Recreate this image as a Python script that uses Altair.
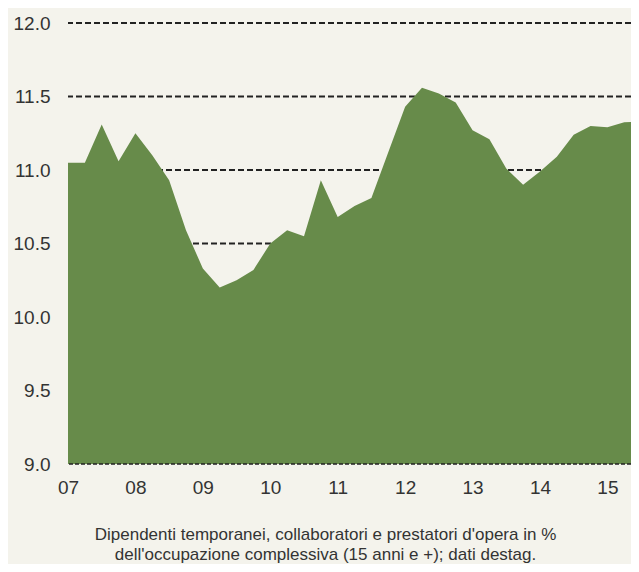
import altair as alt
import pandas as pd

# Quarterly observations, index 0 = 2007 Q1
quarters = list(range(35))
values = [11.05, 11.05, 11.31, 11.06, 11.25, 11.10, 10.93, 10.59,
          10.33, 10.20, 10.25, 10.32, 10.50, 10.59, 10.55, 10.93,
          10.68, 10.755, 10.81, 11.12, 11.43, 11.56, 11.52, 11.46,
          11.27, 11.21, 11.01, 10.90, 10.99, 11.09, 11.24, 11.30,
          11.29, 11.325, 11.33]
year_ticks = [0, 4, 8, 12, 16, 20, 24, 28, 32]
year_labels = ["07", "08", "09", "10", "11", "12", "13", "14", "15"]
y_ticks = [9.0, 9.5, 10.0, 10.5, 11.0, 11.5, 12.0]
grid_levels = [9.5, 10.0, 10.5, 11.0, 11.5, 12.0]
baseline_level = [9.0]
caption = ["Dipendenti temporanei, collaboratori e prestatori d'opera in %",
           "dell'occupazione complessiva (15 anni e +); dati destag."]

df = pd.DataFrame({"q": quarters, "v": values})
grid_df = pd.DataFrame({"g": grid_levels})
base_df = pd.DataFrame({"g": baseline_level})

label_expr = " : ".join(
    f"datum.value == {t} ? '{l}'" for t, l in zip(year_ticks, year_labels)
) + " : ''"

FONT = "Liberation Sans"
TXT = "#333333"

x_scale = alt.Scale(domain=[0, 33.4], nice=False, zero=False)
y_scale = alt.Scale(domain=[9, 12], nice=False, zero=False)

grid = alt.Chart(grid_df).mark_rule(
    color="#222222", strokeWidth=2, strokeDash=[6, 3]
).encode(y=alt.Y("g:Q", scale=y_scale))

area = alt.Chart(df).mark_area(color="#678b4a", clip=True, opacity=1).encode(
    x=alt.X("q:Q", scale=x_scale,
            axis=alt.Axis(values=year_ticks, labelExpr=label_expr, title=None,
                          domain=False, ticks=False, grid=False,
                          labelFontSize=19, labelColor=TXT, labelFont=FONT,
                          labelPadding=14, labelFlush=False)),
    y=alt.Y("v:Q", scale=y_scale,
            axis=alt.Axis(values=y_ticks, format=".1f", title=None,
                          domain=False, ticks=False, grid=False,
                          labelFontSize=19, labelColor=TXT, labelFont=FONT,
                          labelPadding=18)),
)

base = alt.Chart(base_df).mark_rule(
    color="#222222", strokeWidth=1.5, strokeDash=[4, 2]
).encode(y=alt.Y("g:Q", scale=y_scale))

chart = alt.layer(grid, area, base).properties(
    width=563,
    height=441,
    background="#f4f3ec",
    padding={"left": 60, "top": 15, "right": 0, "bottom": 100},
    autosize=alt.AutoSizeParams(type="none"),
    title=alt.TitleParams(text=caption, orient="bottom", anchor="middle",
                          frame="group", font=FONT, fontSize=17,
                          fontWeight="normal", color=TXT, offset=30,
                          lineHeight=20, dx=-24),
).configure_view(stroke=None)

chart.save("out.html", embed_options={"renderer": "svg", "actions": False})
